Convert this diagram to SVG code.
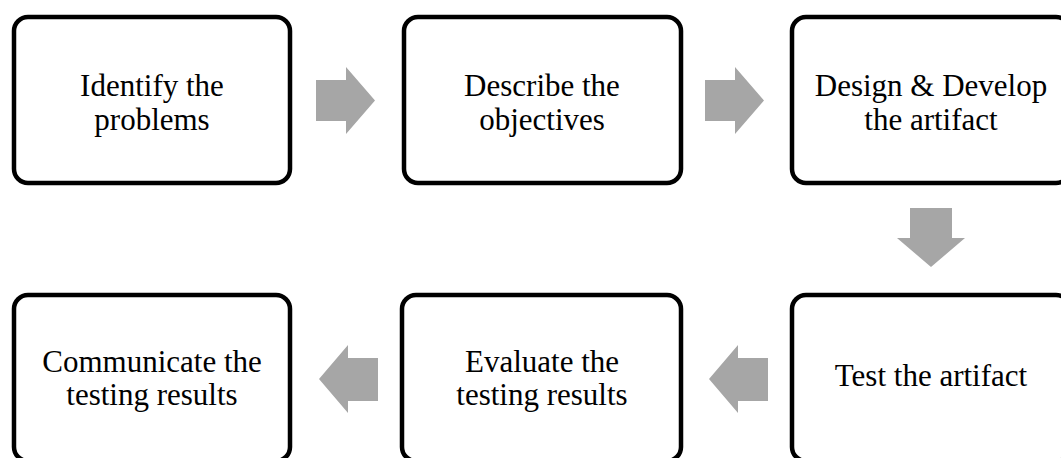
<svg xmlns="http://www.w3.org/2000/svg" width="1061" height="458" viewBox="0 0 1061 458">
<style>
.box{fill:#fff;stroke:#000;stroke-width:4.5}
.lbl{font-family:"Liberation Serif","Times New Roman",serif;font-size:31px;fill:#000;text-anchor:middle}
.arr{fill:#a6a6a6;stroke:none}
</style>
<rect width="1061" height="458" fill="#fff"/>
<g id="n1"><rect class="box" x="14" y="17" width="276" height="166" rx="14"/><text class="lbl" x="152" y="96">Identify the</text><text class="lbl" x="152" y="130">problems</text></g>
<g id="n2"><rect class="box" x="404" y="17" width="277" height="166" rx="14"/><text class="lbl" x="542" y="96">Describe the</text><text class="lbl" x="542" y="130">objectives</text></g>
<g id="n3"><rect class="box" x="792" y="17" width="278" height="166" rx="14"/><text class="lbl" x="931" y="96">Design &amp; Develop</text><text class="lbl" x="931" y="130">the artifact</text></g>
<g id="n4"><rect class="box" x="792" y="295" width="278" height="166" rx="14"/><text class="lbl" x="931" y="386">Test the artifact</text></g>
<g id="n5"><rect class="box" x="402" y="295" width="279" height="166" rx="14"/><text class="lbl" x="542" y="372">Evaluate the</text><text class="lbl" x="542" y="405">testing results</text></g>
<g id="n6"><rect class="box" x="14" y="295" width="276" height="166" rx="14"/><text class="lbl" x="152" y="372">Communicate the</text><text class="lbl" x="152" y="405">testing results</text></g>
<g id="connectors">
<polygon class="arr" points="316,80 346,80 346,67 375,100.5 346,134 346,121 316,121"/>
<polygon class="arr" points="705,80 735,80 735,67 764,100.5 735,134 735,121 705,121"/>
<polygon class="arr" points="910,208 952,208 952,238 965,238 931,267 897,238 910,238"/>
<polygon class="arr" points="768,358 738,358 738,345 709,379 738,413 738,401 768,401"/>
<polygon class="arr" points="378,358 348,358 348,345 319,379 348,413 348,401 378,401"/>
</g>
</svg>
